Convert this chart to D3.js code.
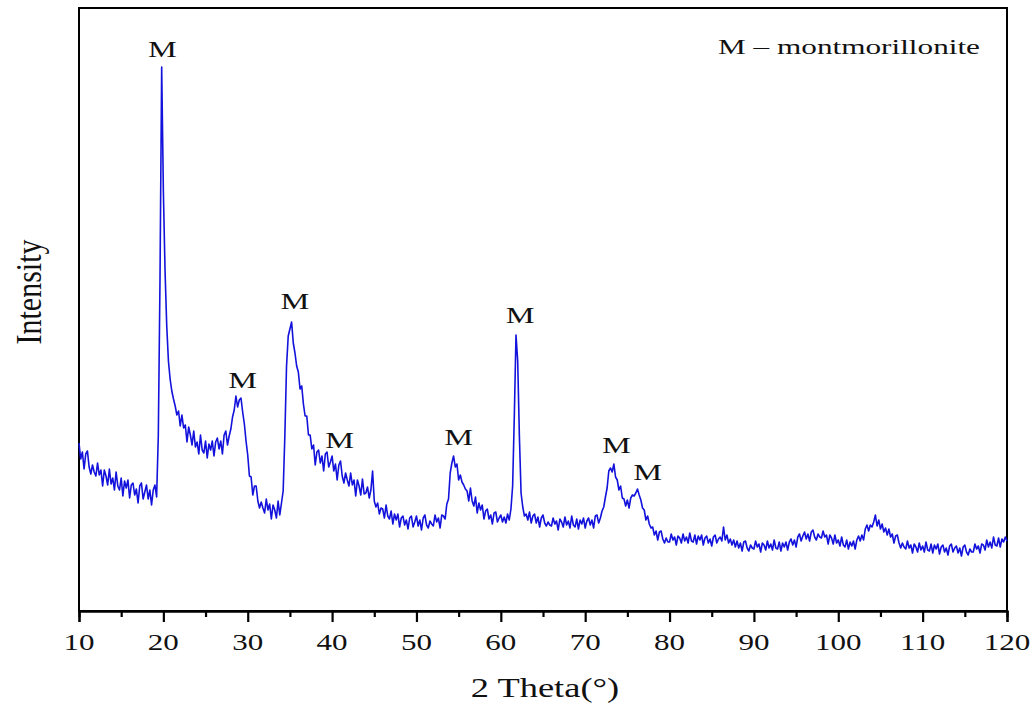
<!DOCTYPE html>
<html>
<head>
<meta charset="utf-8">
<script src="https://cdnjs.cloudflare.com/ajax/libs/d3/7.8.5/d3.min.js"></script>
<style>
  body { margin: 0; background: #fff; }
  text { font-family: "Liberation Serif", "Times New Roman", serif; fill: #111; }
</style>
</head>
<body>
<script>
// XRD pattern: intensity (a.u.) every 0.2 deg from 10 deg
var thetaStart = 10;
var thetaStep = 0.2;
var intensity = [
  168,152,159,142,157,160,144,137,146,139,   // 10
  135,148,136,141,125,141,135,126,142,127,   // 12
  133,121,139,125,121,133,115,130,123,131,   // 14
  113,126,128,116,122,108,125,128,112,119,   // 16
  126,112,121,106,121,126,114,175,330,544,   // 18
  420,340,285,250,232,220,212,205,196,200,   // 20
  185,196,183,186,169,184,176,166,180,164,   // 22
  169,157,176,161,158,170,153,167,161,170,   // 24
  155,169,173,162,170,157,176,180,166,175,   // 26
  182,194,201,215,204,211,213,199,187,170,   // 28
  156,135,134,116,125,125,110,103,109,103,   // 30
  98,112,101,107,92,106,101,93,110,96,       // 32
  108,120,175,245,275,282,289,268,258,245,   // 34
  239,222,225,207,195,195,176,176,162,166,   // 36
  146,159,161,148,155,140,157,159,144,149,   // 38
  155,140,147,131,146,150,135,128,138,131,   // 40
  125,138,126,131,115,131,125,116,132,117,   // 42
  118,124,113,121,140,110,104,108,97,103,    // 44
  102,93,106,95,92,100,87,97,91,97,          // 46
  84,93,95,86,91,82,93,95,84,89,             // 48
  95,85,91,81,93,96,86,83,90,87,             // 50
  85,96,89,93,83,96,95,92,107,112,           // 52
  138,148,155,144,147,131,136,129,126,122,   // 54
  120,110,123,110,105,114,98,108,101,106,    // 56
  92,100,102,92,96,87,98,99,89,93,           // 58
  96,89,94,88,97,91,102,125,195,276,         // 60
  250,175,118,104,95,97,91,99,88,95,         // 62
  97,88,94,84,93,96,88,85,89,86,             // 64
  85,93,87,90,81,92,89,84,94,86,             // 66
  90,83,95,86,84,92,82,91,87,93,             // 68
  83,90,93,86,91,83,95,96,88,93,             // 70
  100,104,114,123,140,143,139,147,134,131,   // 72
  121,125,113,112,105,111,103,113,116,115,   // 74
  118,122,116,111,103,101,91,95,87,83,       // 76
  84,76,80,71,79,80,72,68,73,69,             // 78
  69,77,71,74,66,75,73,68,77,70,             // 80
  74,68,78,70,69,76,67,75,71,76,             // 82
  66,73,75,68,72,65,74,76,68,72,             // 84
  74,70,84,71,76,68,72,66,71,64,             // 86
  70,63,68,60,69,70,63,60,66,63,             // 88
  62,70,64,67,59,68,66,61,70,63,             // 90
  67,61,71,63,62,69,60,68,64,69,             // 92
  61,69,72,66,71,64,74,77,70,75,             // 94
  79,72,77,70,79,81,74,71,77,74,             // 96
  73,80,74,76,67,76,73,67,76,68,             // 98
  71,65,74,66,64,71,62,69,65,70,             // 100
  62,71,75,70,76,71,82,86,80,86,             // 102
  84,89,96,85,91,82,87,79,83,76,             // 104
  82,74,77,68,75,76,68,63,68,64,             // 106
  62,70,63,66,58,67,64,59,68,61,             // 108
  65,59,69,61,60,67,58,66,62,67,             // 110
  57,64,66,59,63,56,65,67,59,63,             // 112
  65,58,63,55,64,66,59,56,62,59,             // 114
  59,67,62,65,58,67,66,61,71,64,             // 116
  69,63,74,66,65,73,64,72,69,74,             // 118
  70                                         // 120
];

// peak labels (2theta, intensity at label baseline)
var peakLabels = [
  [19.9, 554], [29.4, 223], [35.6, 302], [40.9, 163],
  [55.0, 166], [62.3, 288], [73.7, 158], [77.4, 131]
];
var xTicks = [10, 20, 30, 40, 50, 60, 70, 80, 90, 100, 110, 120];
var legendText = "M \u2013 montmorillonite";

var W = 1036, H = 705;
var margin = {top: 8, right: 29, bottom: 94, left: 79};
var stretch = 1.35;

var svg = d3.select("body").append("svg")
  .attr("width", W).attr("height", H);

var x = d3.scaleLinear().domain([10, 120]).range([margin.left, W - margin.right]);
var y = d3.scaleLinear().domain([0, 603]).range([H - margin.bottom, margin.top]);

var points = intensity.map(function(v, i) {
  return [thetaStart + i * thetaStep, v];
});

// frame
svg.append("rect")
  .attr("x", x(10)).attr("y", y(603))
  .attr("width", x(120) - x(10)).attr("height", y(0) - y(603))
  .attr("fill", "none").attr("stroke", "#000").attr("stroke-width", 2);

// x axis, major + minor ticks pointing out
var axisG = svg.append("g").attr("transform", "translate(0," + y(0) + ")");
axisG.call(d3.axisBottom(x).tickValues(d3.range(15, 120, 10)).tickSize(6).tickFormat(""));
axisG.append("g").call(d3.axisBottom(x).tickValues(xTicks).tickSize(11).tickFormat(""));
axisG.selectAll("path.domain").attr("stroke", "#000").attr("stroke-width", 2);
axisG.selectAll("line").attr("stroke", "#000").attr("stroke-width", 2.2);

function stretchedText(px, py, str, size, sx) {
  return svg.append("text")
    .attr("transform", "translate(" + px + "," + py + ") scale(" + (sx || stretch) + ",1)")
    .attr("text-anchor", "middle")
    .style("font-size", size + "px")
    .text(str);
}

xTicks.forEach(function(t) {
  stretchedText(x(t), y(0) + 39, t, 23);
});

stretchedText((x(10) + x(120)) / 2 + 2, 697, "2 Theta(\u00b0)", 27);

svg.append("text")
  .attr("transform", "translate(41,292) rotate(-90) scale(1,1.2)")
  .attr("text-anchor", "middle")
  .style("font-size", "30px")
  .text("Intensity");

// pattern
var line = d3.line()
  .x(function(d) { return x(d[0]); })
  .y(function(d) { return y(d[1]); });

svg.append("path")
  .datum(points)
  .attr("d", line)
  .attr("fill", "none")
  .attr("stroke", "#1212dc")
  .attr("stroke-width", 1.6)
  .attr("stroke-linejoin", "round");

peakLabels.forEach(function(p) {
  stretchedText(x(p[0]), y(p[1]), "M", 24);
});

stretchedText(849, 54, legendText, 22, 1.42);
</script>
</body>
</html>
